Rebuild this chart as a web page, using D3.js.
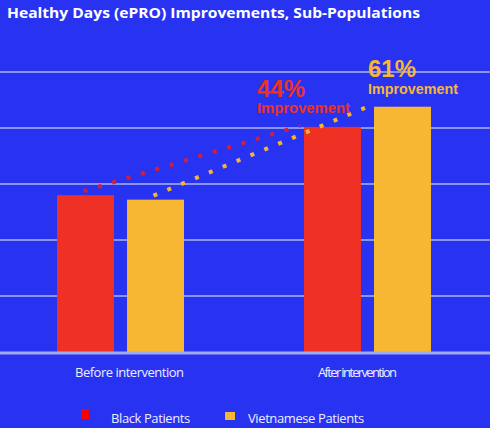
<!DOCTYPE html>
<html>
<head>
<meta charset="utf-8">
<script src="https://d3js.org/d3.v7.min.js"></script>
<style>
  body { margin: 0; background: #2833f2; }
  svg { display: block; }
</style>
</head>
<body>
<svg width="490" height="428"></svg>
<script>
// chart data
var categories = ["Before intervention", "After intervention"];
var seriesNames = ["Black Patients", "Vietnamese Patients"];
var blackValues = [14.0, 20.1];
var vietValues = [13.6, 21.9];
var improvementLabels = ["44%", "61%"];
var gridTicks = [0, 5, 10, 15, 20, 25];

var colors = ["#ee3124", "#f7b733"];
var dotColors = ["#d91c35", "#f5b531"];
var legendColors = ["#ff0000", "#f7b733"];
// label layout tweaks (offset from group centre, rendered width)
var catLabelShift = [9, -10];
var catLabelWidth = [109, 79];

var svg = d3.select("svg"),
    width = 490,
    baseY = 352,
    topY = 72;

var x0 = d3.scaleBand().domain(categories).range([-3, 491]);
var x1 = d3.scaleBand().domain(seriesNames).range([-63.5, 63.5]).paddingInner(0.186);
var y = d3.scaleLinear().domain([0, 25]).range([baseY, topY]);

function groupCenter(c){ return x0(c) + x0.bandwidth() / 2; }

// title
svg.append("text")
    .attr("x", 7).attr("y", 18)
    .attr("fill", "#ffffff")
    .attr("font-family", "'Open Sans', sans-serif")
    .attr("font-weight", "bold")
    .attr("font-size", 15)
    .attr("textLength", 413)
    .attr("lengthAdjust", "spacingAndGlyphs")
    .text("Healthy Days (ePRO) Improvements, Sub-Populations");

// grid lines
svg.append("g").selectAll("line")
    .data(gridTicks.slice(1))
    .enter().append("line")
      .attr("x1", 0).attr("x2", width)
      .attr("y1", function(d){ return y(d); })
      .attr("y2", function(d){ return y(d); })
      .attr("stroke", "#8a93f2")
      .attr("stroke-width", 2);

// bars
var data = categories.map(function(c, i){
  return { cat: c, vals: [blackValues[i], vietValues[i]] };
});

var groups = svg.append("g").selectAll("g")
    .data(data)
    .enter().append("g")
      .attr("transform", function(d){ return "translate(" + groupCenter(d.cat) + ",0)"; });

groups.selectAll("rect")
    .data(function(d){ return d.vals.map(function(v, j){ return { s: seriesNames[j], v: v, j: j }; }); })
    .enter().append("rect")
      .attr("x", function(d){ return x1(d.s); })
      .attr("y", function(d){ return y(d.v); })
      .attr("width", x1.bandwidth())
      .attr("height", function(d){ return baseY - y(d.v); })
      .attr("fill", function(d){ return colors[d.j]; });

// baseline
svg.append("line")
    .attr("x1", 0).attr("x2", width)
    .attr("y1", baseY + 1).attr("y2", baseY + 1)
    .attr("stroke", "#a4aaee")
    .attr("stroke-width", 3);

// dotted trend lines between before / after bars
var series = [blackValues, vietValues];
series.forEach(function(vals, j){
  var cx = groupCenter(categories[0]) + x1(seriesNames[j]) + x1.bandwidth() / 2;
  var ex = groupCenter(categories[1]) + x1(seriesNames[j]) - 4;
  svg.append("line")
      .attr("x1", cx - 2).attr("y1", y(vals[0]) - 4)
      .attr("x2", ex).attr("y2", y(vals[1]) - 1)
      .attr("stroke", dotColors[j])
      .attr("stroke-width", 4)
      .attr("stroke-dasharray", "4 11");
});

// improvement annotations
series.forEach(function(vals, j){
  var lx = groupCenter(categories[1]) + x1(seriesNames[j]) - 47 + j * 41;
  var by = y(vals[1]) - 30;
  svg.append("text")
      .attr("x", lx).attr("y", by)
      .attr("fill", colors[j])
      .attr("font-family", "'Liberation Sans', Arial, sans-serif")
      .attr("font-weight", "bold")
      .attr("font-size", 23)
      .attr("textLength", 48)
      .attr("lengthAdjust", "spacingAndGlyphs")
      .text(improvementLabels[j]);
  svg.append("text")
      .attr("x", lx).attr("y", by + 16 + j)
      .attr("fill", colors[j])
      .attr("font-family", "'Liberation Sans', Arial, sans-serif")
      .attr("font-weight", "bold")
      .attr("font-size", 14)
      .attr("textLength", j === 0 ? 93 : 90)
      .attr("lengthAdjust", "spacingAndGlyphs")
      .text("Improvement");
});

// category labels
svg.append("g").selectAll("text")
    .data(categories)
    .enter().append("text")
      .attr("x", function(d, i){ return groupCenter(d) + catLabelShift[i]; })
      .attr("y", 377)
      .attr("text-anchor", "middle")
      .attr("fill", "#eceeff")
      .attr("font-family", "'Open Sans', sans-serif")
      .attr("font-size", 13)
      .attr("textLength", function(d, i){ return catLabelWidth[i]; })
      .attr("lengthAdjust", "spacing")
      .text(function(d){ return d; });

// legend
var legendX = [81, 225];
var legend = svg.append("g").selectAll("g")
    .data(seriesNames)
    .enter().append("g")
      .attr("transform", function(d, i){ return "translate(" + legendX[i] + ",0)"; });

legend.append("rect")
    .attr("x", 0)
    .attr("y", function(d, i){ return i === 0 ? 409 : 412; })
    .attr("width", function(d, i){ return i === 0 ? 8 : 10; })
    .attr("height", function(d, i){ return i === 0 ? 10 : 8; })
    .attr("fill", function(d, i){ return legendColors[i]; });

legend.append("text")
    .attr("x", function(d, i){ return i === 0 ? 30 : 23; })
    .attr("y", 423)
    .attr("fill", "#eceeff")
    .attr("font-family", "'Open Sans', sans-serif")
    .attr("font-size", 13)
    .attr("letter-spacing", -0.4)
    .text(function(d){ return d; });
</script>
</body>
</html>
